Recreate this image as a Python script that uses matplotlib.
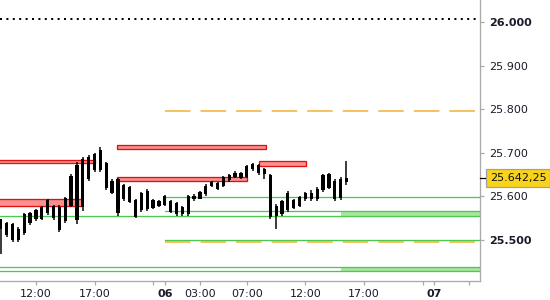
import matplotlib
matplotlib.use("Agg")
import matplotlib.pyplot as plt
import matplotlib.transforms as mtrans
from matplotlib.patches import Rectangle

# ---------------- data ----------------
bar_index = list(range(-6, 54))
highs = [25.548, 25.541, 25.538, 25.529, 25.561, 25.563, 25.570, 25.578, 25.593, 25.579,
         25.579, 25.598, 25.651, 25.679, 25.689, 25.694, 25.700, 25.713, 25.679, 25.638,
         25.641, 25.628, 25.623, 25.593, 25.609, 25.615, 25.593, 25.591, 25.602, 25.591,
         25.586, 25.577, 25.602, 25.604, 25.611, 25.627, 25.634, 25.633, 25.646, 25.651,
         25.657, 25.656, 25.671, 25.677, 25.674, 25.664, 25.651, 25.582, 25.591, 25.611,
         25.593, 25.600, 25.609, 25.614, 25.620, 25.651, 25.654, 25.638, 25.643, 25.680]
lows = [25.467, 25.506, 25.495, 25.495, 25.510, 25.533, 25.543, 25.545, 25.556, 25.545,
        25.518, 25.538, 25.574, 25.536, 25.566, 25.635, 25.656, 25.656, 25.614, 25.605,
        25.554, 25.589, 25.583, 25.549, 25.564, 25.566, 25.570, 25.575, 25.577, 25.560,
        25.555, 25.555, 25.555, 25.589, 25.592, 25.601, 25.621, 25.614, 25.621, 25.633,
        25.641, 25.638, 25.641, 25.658, 25.648, 25.639, 25.546, 25.524, 25.554, 25.564,
        25.570, 25.575, 25.589, 25.589, 25.589, 25.610, 25.616, 25.589, 25.591, 25.625]
opens = [25.546, 25.538, 25.535, 25.498, 25.515, 25.560, 25.546, 25.575, 25.560, 25.576,
         25.575, 25.542, 25.578, 25.545, 25.575, 25.690, 25.660, 25.705, 25.675, 25.608,
         25.638, 25.592, 25.620, 25.590, 25.567, 25.612, 25.573, 25.588, 25.580, 25.588,
         25.558, 25.574, 25.558, 25.601, 25.594, 25.604, 25.623, 25.630, 25.623, 25.636,
         25.644, 25.653, 25.644, 25.661, 25.671, 25.650, 25.648, 25.555, 25.558, 25.568,
         25.590, 25.578, 25.592, 25.608, 25.592, 25.613, 25.651, 25.635, 25.595, 25.632]
closes = [25.525, 25.510, 25.498, 25.525, 25.558, 25.537, 25.567, 25.548, 25.590, 25.550,
          25.522, 25.595, 25.647, 25.672, 25.685, 25.640, 25.697, 25.660, 25.618, 25.635,
          25.560, 25.625, 25.587, 25.552, 25.606, 25.570, 25.590, 25.578, 25.599, 25.563,
          25.583, 25.558, 25.599, 25.592, 25.609, 25.624, 25.632, 25.617, 25.643, 25.648,
          25.654, 25.641, 25.668, 25.674, 25.652, 25.661, 25.552, 25.578, 25.588, 25.607,
          25.573, 25.597, 25.606, 25.592, 25.617, 25.648, 25.619, 25.592, 25.640, 25.64225]

last_price = 25.64225
last_label = "25.642,25"

# red zones: (start, end, low, high)
red_start = [-7, -7, 13.8, 13.8, 38.05]
red_end = [10.07, 7.9, 39.2, 36.1, 46.1]
red_low = [25.6766, 25.5777, 25.7074, 25.635, 25.6697]
red_high = [25.6828, 25.5931, 25.7166, 25.643, 25.6798]

# green levels: (start, level)
green_start = [22, 22, -7, 22, -7, -7]
green_level = [25.597, 25.566, 25.553, 25.500, 25.436, 25.427]

# green bands (start, low, high)
band_start = [52.05, 52.05]
band_low = [25.553, 25.427]
band_high = [25.566, 25.436]

# orange dashed levels
orange_start = [22, 22]
orange_level = [25.795, 25.4936]

dotted_level = 26.007

xtick_pos = [0, 10, 20, 22, 28, 36, 46, 56, 66, 68, 74]
xtick_lab = ["12:00", "17:00", "", "06", "03:00", "07:00", "12:00", "17:00", "", "07", ""]
xtick_bold = ["06", "07"]
ytick_pos = [25.5, 25.6, 25.7, 25.8, 25.9, 26.0]
ytick_lab = ["25.500", "25.600", "25.700", "25.800", "25.900", "26.000"]
ytick_bold = ["25.500", "26.000"]

XMIN, XMAX = -6.14, 75.8
YMIN, YMAX = 25.4046, 26.0506

# ---------------- figure ----------------
fig = plt.figure(figsize=(5.5, 3.0), dpi=100)
ax = fig.add_axes([0, 19 / 300, 480 / 550, 281 / 300])
ax.set_xlim(XMIN, XMAX)
ax.set_ylim(YMIN, YMAX)

px = 0.72  # one pixel in points

# horizontal levels
ax.plot([XMIN, XMAX], [dotted_level, dotted_level], color="black", lw=2 * px,
        dashes=(1, 2.2), dash_capstyle="butt", zorder=2)
for s, lv in zip(orange_start, orange_level):
    ax.plot([s, XMAX], [lv, lv], color="#f4b030", lw=1.5 * px, dashes=(17, 6.7),
            dash_capstyle="butt", zorder=2)
for s, lo, hi in zip(band_start, band_low, band_high):
    ax.fill_between([s, XMAX + 1], lo, hi, color="#a6e6a0", lw=0, zorder=1)
for s, lv in zip(green_start, green_level):
    ax.plot([s, XMAX + 1], [lv, lv], color="#4cc84c", lw=1.3 * px, zorder=2)

# red zones
for s, e, lo, hi in zip(red_start, red_end, red_low, red_high):
    ax.add_patch(Rectangle((s, lo), e - s, hi - lo, facecolor="#fb9090",
                           edgecolor="#e01010", lw=1.3 * px, zorder=3))

# bars
ax.vlines(bar_index, lows, highs, color="black", lw=1.5 * px, zorder=4)
body_bottom = [min(o, c) for o, c in zip(opens, closes)]
body_height = [max(abs(c - o), 0.0015) for o, c in zip(opens, closes)]
ax.bar(bar_index, body_height, bottom=body_bottom, width=0.56, color="black",
       lw=0, zorder=5)

# axes styling
for side in ("left", "top"):
    ax.spines[side].set_visible(False)
for side in ("right", "bottom"):
    ax.spines[side].set_color("#aaaaaa")
    ax.spines[side].set_linewidth(1.3 * px)

ax.yaxis.tick_right()
ax.set_yticks(ytick_pos)
ax.set_yticklabels(ytick_lab)
ax.set_xticks(xtick_pos)
ax.set_xticklabels(xtick_lab)
ax.tick_params(axis="both", colors="#aaaaaa", labelcolor="#1a1a2a", labelsize=8,
               length=3, width=0.9)
ax.tick_params(axis="y", pad=3.5)
ax.tick_params(axis="x", pad=2.5)
for t in ax.get_yticklabels():
    if t.get_text() in ytick_bold:
        t.set_fontweight("bold")
for t in ax.get_xticklabels():
    if t.get_text() in xtick_bold:
        t.set_fontweight("bold")

# current price marker
trans = mtrans.blended_transform_factory(ax.transAxes, ax.transData)
ax.plot([1.0, 1.0105], [last_price, last_price], color="black", lw=1.2 * px,
        transform=trans, clip_on=False, zorder=6)
ax.text(1.0205, last_price, last_label, transform=trans, ha="left", va="center",
        fontsize=8, color="#111111",
        bbox=dict(boxstyle="square,pad=0.35", facecolor="#f8d31c",
                  edgecolor="#a0a0a0", lw=1.2 * px), clip_on=False)

fig.savefig("out.png", dpi=100, facecolor="white")
